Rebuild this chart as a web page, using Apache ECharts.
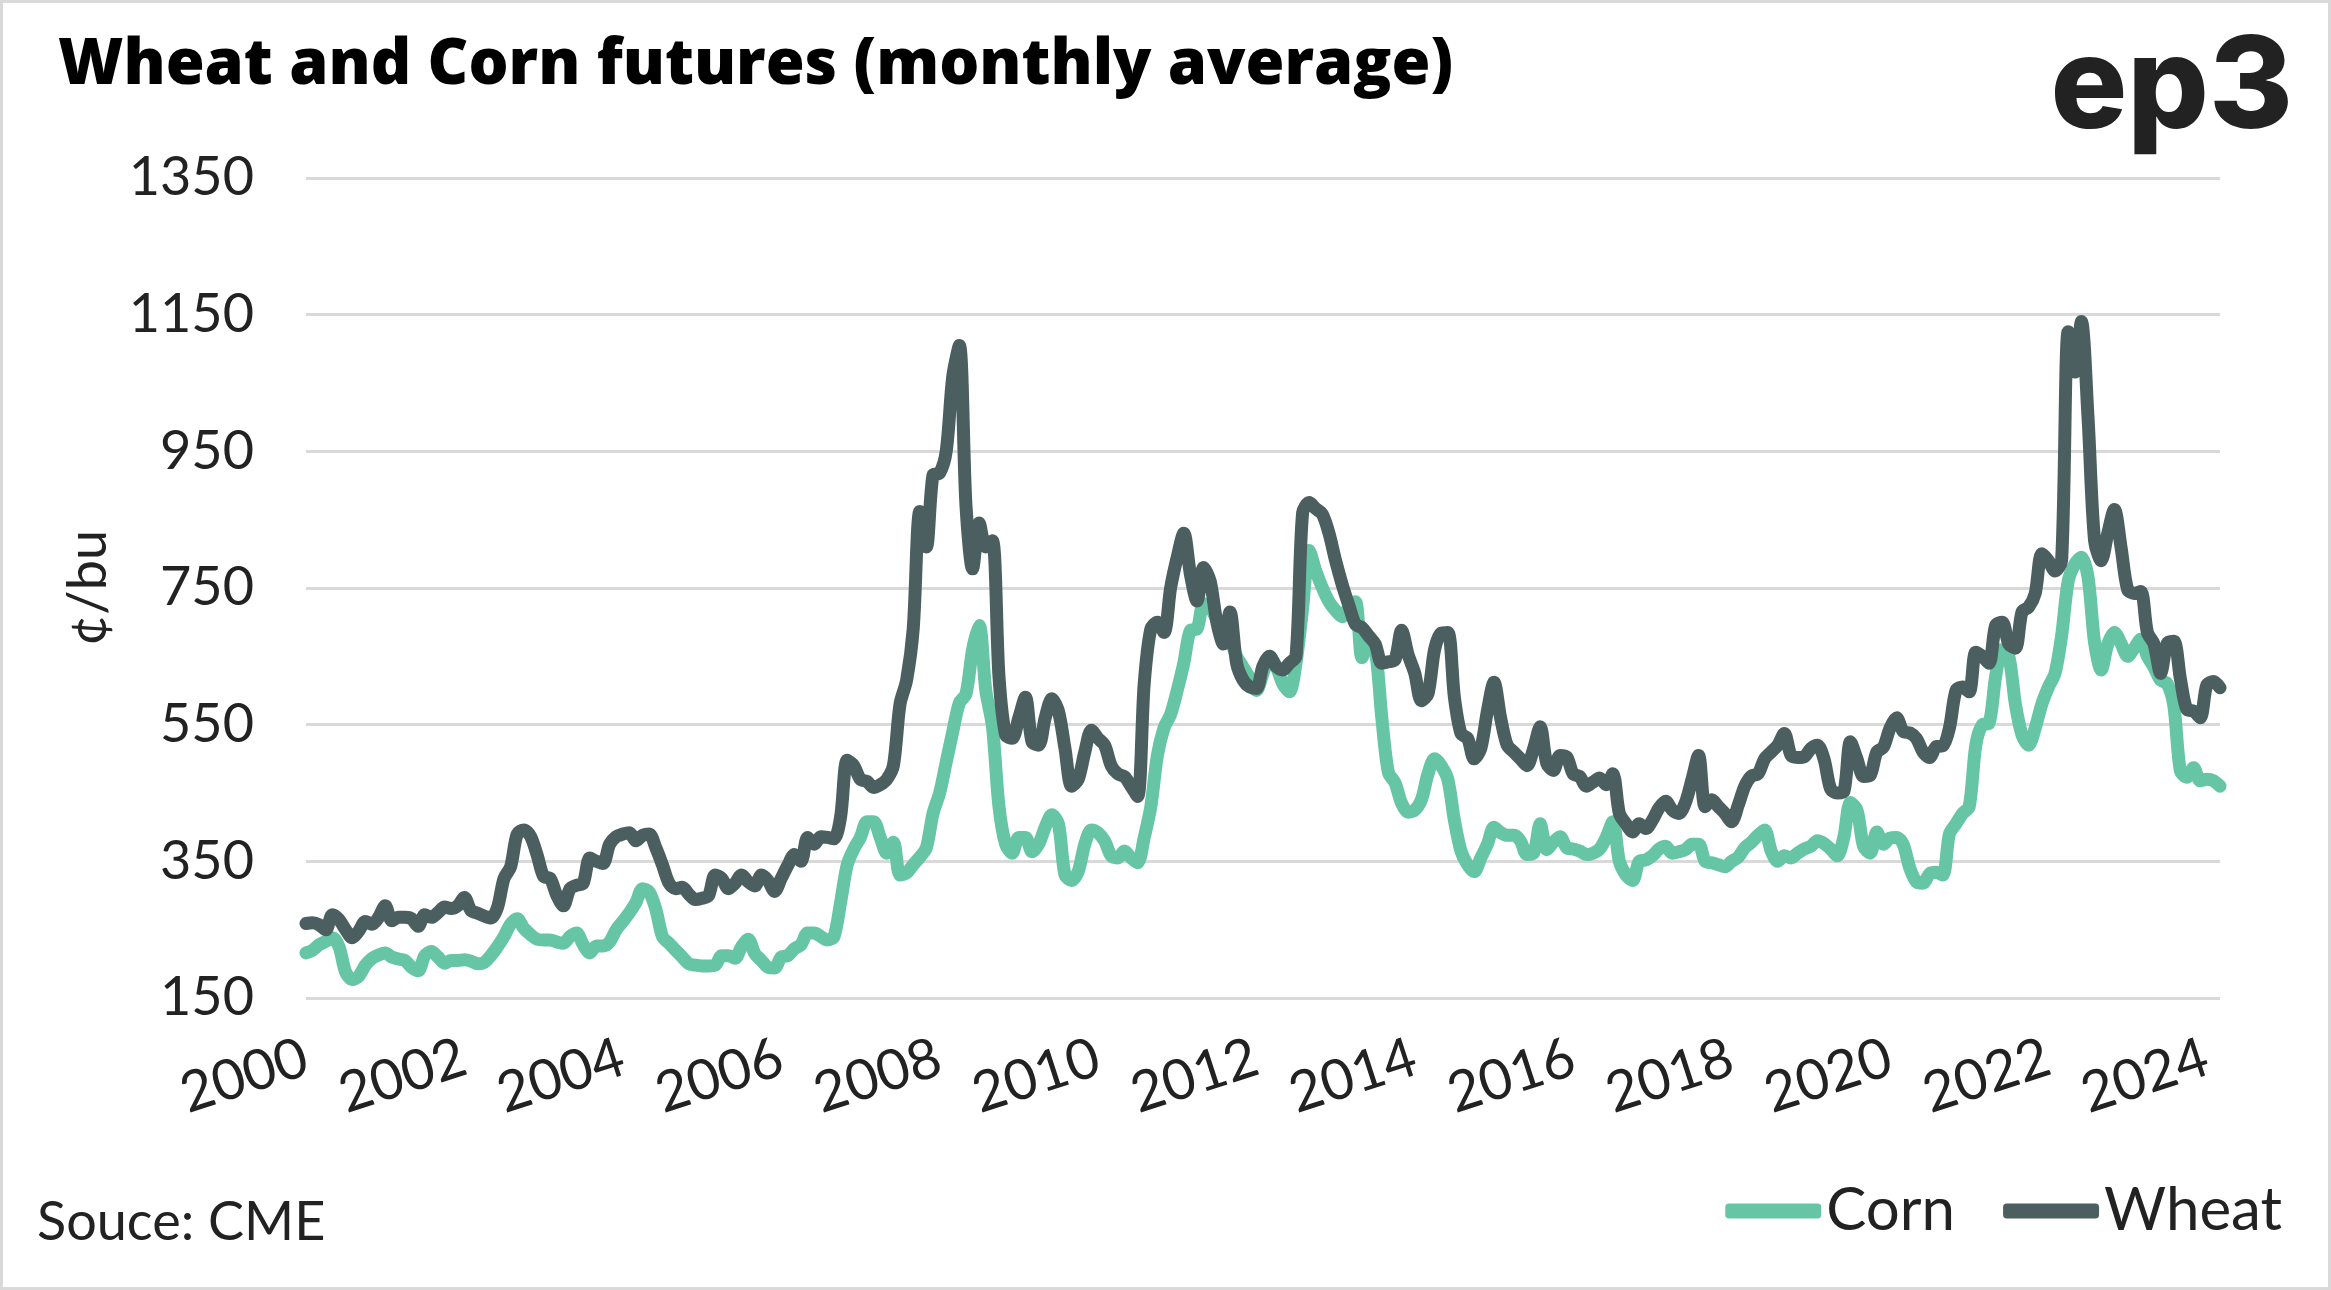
<!DOCTYPE html>
<html>
<head>
<meta charset="utf-8">
<script src="https://cdn.jsdelivr.net/npm/echarts@6/dist/echarts.min.js"></script>
<style>
html,body{margin:0;padding:0;background:#fff;}
#wrap{width:2331px;height:1290px;box-sizing:border-box;border:3px solid #d9d9d9;position:relative;background:#fff;}
#chart{position:absolute;left:-3px;top:-3px;width:2331px;height:1290px;}
</style>
</head>
<body>
<div id="wrap"><div id="chart"></div></div>
<script>
// Monthly averages, Jan 2000 – Mar 2024 (¢/bu)
const startYear = 2000;
const wheat = [
  259,260,257,250,272,265,250,238,248,262,258,268,   // 2000
  285,263,268,268,266,255,272,268,275,283,281,285,   // 2001
  297,278,274,270,267,282,325,342,390,396,387,360,   // 2002
  328,325,300,285,310,315,318,355,350,347,375,386,   // 2003
  390,392,380,388,390,370,345,318,310,312,302,294,   // 2004
  296,300,330,325,310,318,330,320,314,330,322,306,   // 2005
  325,344,360,350,385,375,386,385,383,415,498,490,   // 2006
  470,467,458,462,470,490,580,615,690,862,810,915,   // 2007
  918,950,1060,1105,870,778,845,810,819,620,535,530, // 2008
  560,590,525,520,560,588,570,515,460,470,510,542,   // 2009
  530,520,490,478,474,460,445,610,690,700,685,750,   // 2010
  795,830,770,731,780,760,700,668,715,640,615,605,   // 2011
  603,636,650,635,630,640,650,860,875,866,858,830,   // 2012
  790,755,725,697,692,680,668,640,642,645,688,652,   // 2013
  625,585,595,660,684,685,590,537,530,500,515,570,   // 2014
  612,560,520,510,500,490,515,547,493,483,505,503,   // 2015
  478,474,460,466,472,462,478,420,405,393,405,398,   // 2016
  410,428,438,425,420,436,470,505,430,440,430,420,   // 2017
  408,432,460,475,478,500,510,520,537,505,502,503,   // 2018
  515,520,500,456,450,452,525,500,474,476,510,517,   // 2019
  545,560,540,538,530,510,502,518,519,545,600,605,   // 2020
  598,656,650,640,695,700,668,662,715,722,742,800,   // 2021
  790,775,790,1125,1066,1140,1000,819,790,830,865,810, // 2022
  748,742,745,685,668,625,669,672,617,572,570,560,   // 2023
  608,613,604                                        // 2024
];
const corn = [
  216,220,228,233,238,225,188,177,182,198,208,213,   // 2000
  216,210,207,205,195,190,212,218,210,201,205,205,   // 2001
  206,204,200,202,212,225,240,258,266,252,243,236,   // 2002
  235,235,232,230,240,245,228,216,226,226,232,250,   // 2003
  262,275,290,310,305,280,240,230,220,210,200,198,   // 2004
  197,197,198,212,212,208,225,236,215,205,195,194,   // 2005
  210,212,222,228,245,245,240,235,240,290,345,368,   // 2006
  385,408,408,385,362,378,330,333,345,356,370,420,   // 2007
  450,495,540,582,595,660,695,600,548,430,375,362,   // 2008
  385,385,364,375,400,418,405,330,322,335,375,396,   // 2009
  392,380,358,355,365,355,348,385,430,505,545,565,   // 2010
  600,640,688,690,727,722,705,700,675,650,634,618,   // 2011
  600,625,650,635,610,598,640,720,805,775,750,730,   // 2012
  717,708,722,730,648,670,660,560,480,465,435,422,   // 2013
  425,440,478,500,490,470,410,365,345,335,355,375,   // 2014
  400,392,388,388,380,360,362,405,367,378,386,370,   // 2015
  368,365,360,362,368,385,408,350,330,322,350,352,   // 2016
  358,368,372,362,364,367,375,375,350,348,345,342,   // 2017
  350,356,370,378,388,396,365,350,358,355,362,368,   // 2018
  372,380,376,368,358,385,436,425,372,362,393,375,   // 2019
  384,385,375,340,320,318,332,334,330,390,405,420,   // 2020
  430,520,550,552,620,660,650,580,535,520,545,580,   // 2021
  605,625,680,760,785,795,766,670,630,668,685,669,   // 2022
  650,662,675,650,634,615,610,578,482,473,487,468,   // 2023
  470,468,460                                        // 2024
];
const yTicks = [150, 350, 550, 750, 950, 1150, 1350];

const months = [];
for (let i = 0; i < wheat.length; i++) {
  const y = startYear + Math.floor(i / 12);
  const m = (i % 12) + 1;
  months.push(y + '-' + (m < 10 ? '0' + m : m));
}

const FONT = 'Lato, "Noto Sans", sans-serif';
const chart = echarts.init(document.getElementById('chart'), null, {renderer: 'canvas'});
chart.setOption({
  backgroundColor: 'transparent',
  animation: false,
  title: {
    text: 'Wheat and Corn futures (monthly average)',
    left: 58, top: 35, padding: 0,
    textStyle: {fontFamily: '"Open Sans", Lato, sans-serif', fontWeight: 800, fontSize: 63, color: '#000'}
  },
  legend: {
    data: ['Corn', 'Wheat'],
    right: 44, top: 1176,
    icon: 'roundRect',
    itemWidth: 96, itemHeight: 15, itemGap: 48,
    textStyle: {fontFamily: FONT, fontSize: 60, color: '#222', padding: [0, 0, 0, 0]}
  },
  grid: {left: 306, right: 111, top: 178, bottom: 292, containLabel: false},
  xAxis: {
    type: 'category',
    data: months,
    boundaryGap: false,
    axisLine: {show: false},
    axisTick: {show: false},
    splitLine: {show: false},
    axisLabel: {
      interval: function (idx) { return idx % 24 === 0; },
      formatter: function (v) { return v.slice(0, 4); },
      rotate: 18, margin: 58,
      fontFamily: FONT, fontSize: 56, color: '#222'
    }
  },
  yAxis: {
    type: 'value',
    min: yTicks[0], max: yTicks[yTicks.length - 1], interval: 200,
    name: '¢/bu', nameLocation: 'middle', nameRotate: 90, nameGap: 190,
    nameTextStyle: {fontFamily: FONT, fontSize: 54, color: '#222'},
    axisLine: {show: false},
    axisTick: {show: false},
    splitLine: {lineStyle: {color: '#d9d9d9', width: 3}},
    axisLabel: {
      margin: 52, fontFamily: FONT, fontSize: 54, color: '#222',
      formatter: function (v) { return String(v); }
    }
  },
  series: [
    {
      name: 'Corn', type: 'line', data: corn, smooth: 0.3, symbol: 'none',
      color: '#65c5a5',
      lineStyle: {width: 13, color: '#65c5a5', cap: 'round', join: 'round'}
    },
    {
      name: 'Wheat', type: 'line', data: wheat, smooth: 0.3, symbol: 'none',
      color: '#4b5f60',
      lineStyle: {width: 13, color: '#4b5f60', cap: 'round', join: 'round'}
    }
  ],
  graphic: [
    {
      type: 'text', right: 38, top: 26,
      style: {text: 'ep3', fontFamily: 'Inter, Lato, sans-serif', fontWeight: 800, fontSize: 128, fill: '#222'}
    },
    {
      type: 'text', left: 37, top: 1196,
      style: {text: 'Souce: CME', fontFamily: FONT, fontSize: 54, fill: '#222'}
    }
  ]
});
</script>
</body>
</html>
